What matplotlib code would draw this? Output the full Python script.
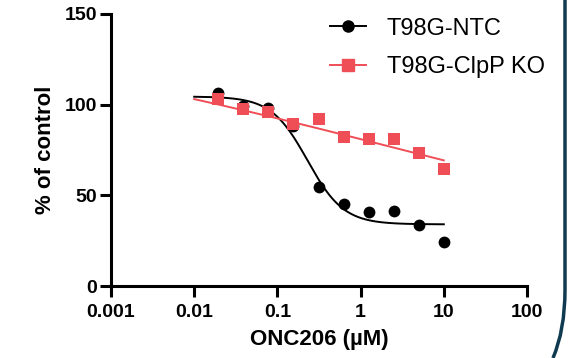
import numpy as np
import matplotlib.pyplot as plt
from matplotlib.path import Path
from matplotlib.patches import PathPatch

plt.rcParams['font.family'] = ['Liberation Sans', 'DejaVu Sans']

# ONC206 concentrations (uM), 2-fold dilution
conc = [0.0195, 0.039, 0.078, 0.156, 0.3125, 0.625, 1.25, 2.5, 5.0, 10.0]
ntc = [106.3, 99.3, 98.0, 88.4, 54.8, 45.0, 41.0, 41.5, 33.6, 24.4]
ko = [103.1, 97.5, 96.1, 89.6, 92.3, 82.3, 80.9, 80.9, 73.5, 64.3]

# 4-parameter logistic fit parameters (top, bottom, IC50, hill)
ntc_fit = (104.5, 34.0, 0.23, 2.0)
ko_fit = (150.0, 0.0, 3.25, 0.136)

labels = ['T98G-NTC', 'T98G-ClpP KO']
black = '#000000'
red = '#f04e57'


def four_pl(x, top, bottom, ic50, hill):
  return bottom + (top - bottom) / (1.0 + (x / ic50) ** hill)


fig = plt.figure(figsize=(5.82, 3.58), dpi=100)
ax = fig.add_axes([0.1907, 0.2011, 0.9055 - 0.1907, 0.9609 - 0.2011])

x_ = np.logspace(-2, 1, 200)
ax.plot(x_, four_pl(x_, *ntc_fit), color=black, lw=1.4)
ax.plot(x_, four_pl(x_, *ko_fit), color=red, lw=1.4)
ax.plot(conc, ntc, 'o', color=black, ms=8.5, mew=0)
ax.plot(conc, ko, 's', color=red, ms=8.5, mew=0)

# legend handles: line + marker
h1, = ax.plot([], [], '-o', color=black, ms=8, lw=1.4)
h2, = ax.plot([], [], '-s', color=red, ms=8, lw=1.4)
ax.legend([h1, h2], labels, loc='upper left', bbox_to_anchor=(0.476, 1.065),
  frameon=False, fontsize=17, handlelength=1.5, handletextpad=0.9,
  labelspacing=0.7)

ax.set_xscale('log')
ax.set_xlim(0.001, 100)
ax.set_ylim(0, 150)
ax.set_xticks([0.001, 0.01, 0.1, 1, 10, 100])
ax.set_xticklabels(['0.001', '0.01', '0.1', '1', '10', '100'])
ax.minorticks_off()
ax.set_yticks([0, 50, 100, 150])

for side in ['top', 'right']:
  ax.spines[side].set_visible(False)
for side in ['left', 'bottom']:
  ax.spines[side].set_linewidth(2.2)
ax.tick_params(width=2.2, length=8, labelsize=14, pad=2)
ax.tick_params(axis='x', pad=5)
for lab in ax.get_xticklabels() + ax.get_yticklabels():
  lab.set_fontweight('bold')

ax.set_xlabel('ONC206 (µM)', fontsize=16, fontweight='bold', labelpad=6)
ax.set_ylabel('% of control', fontsize=16, fontweight='bold', labelpad=6)

# slide frame border on the right
W, H = 582.0, 358.0
verts = [(565 / W, 1.0), (565 / W, 1 - 290 / H), (565 / W, 1 - 330 / H), (553 / W, 0.0)]
codes = [Path.MOVETO, Path.LINETO, Path.CURVE3, Path.CURVE3]
fig.patches.append(PathPatch(Path(verts, codes), transform=fig.transFigure,
  fill=False, edgecolor='#0f3a50', lw=2.5))

fig.savefig('out.png', dpi=100)
